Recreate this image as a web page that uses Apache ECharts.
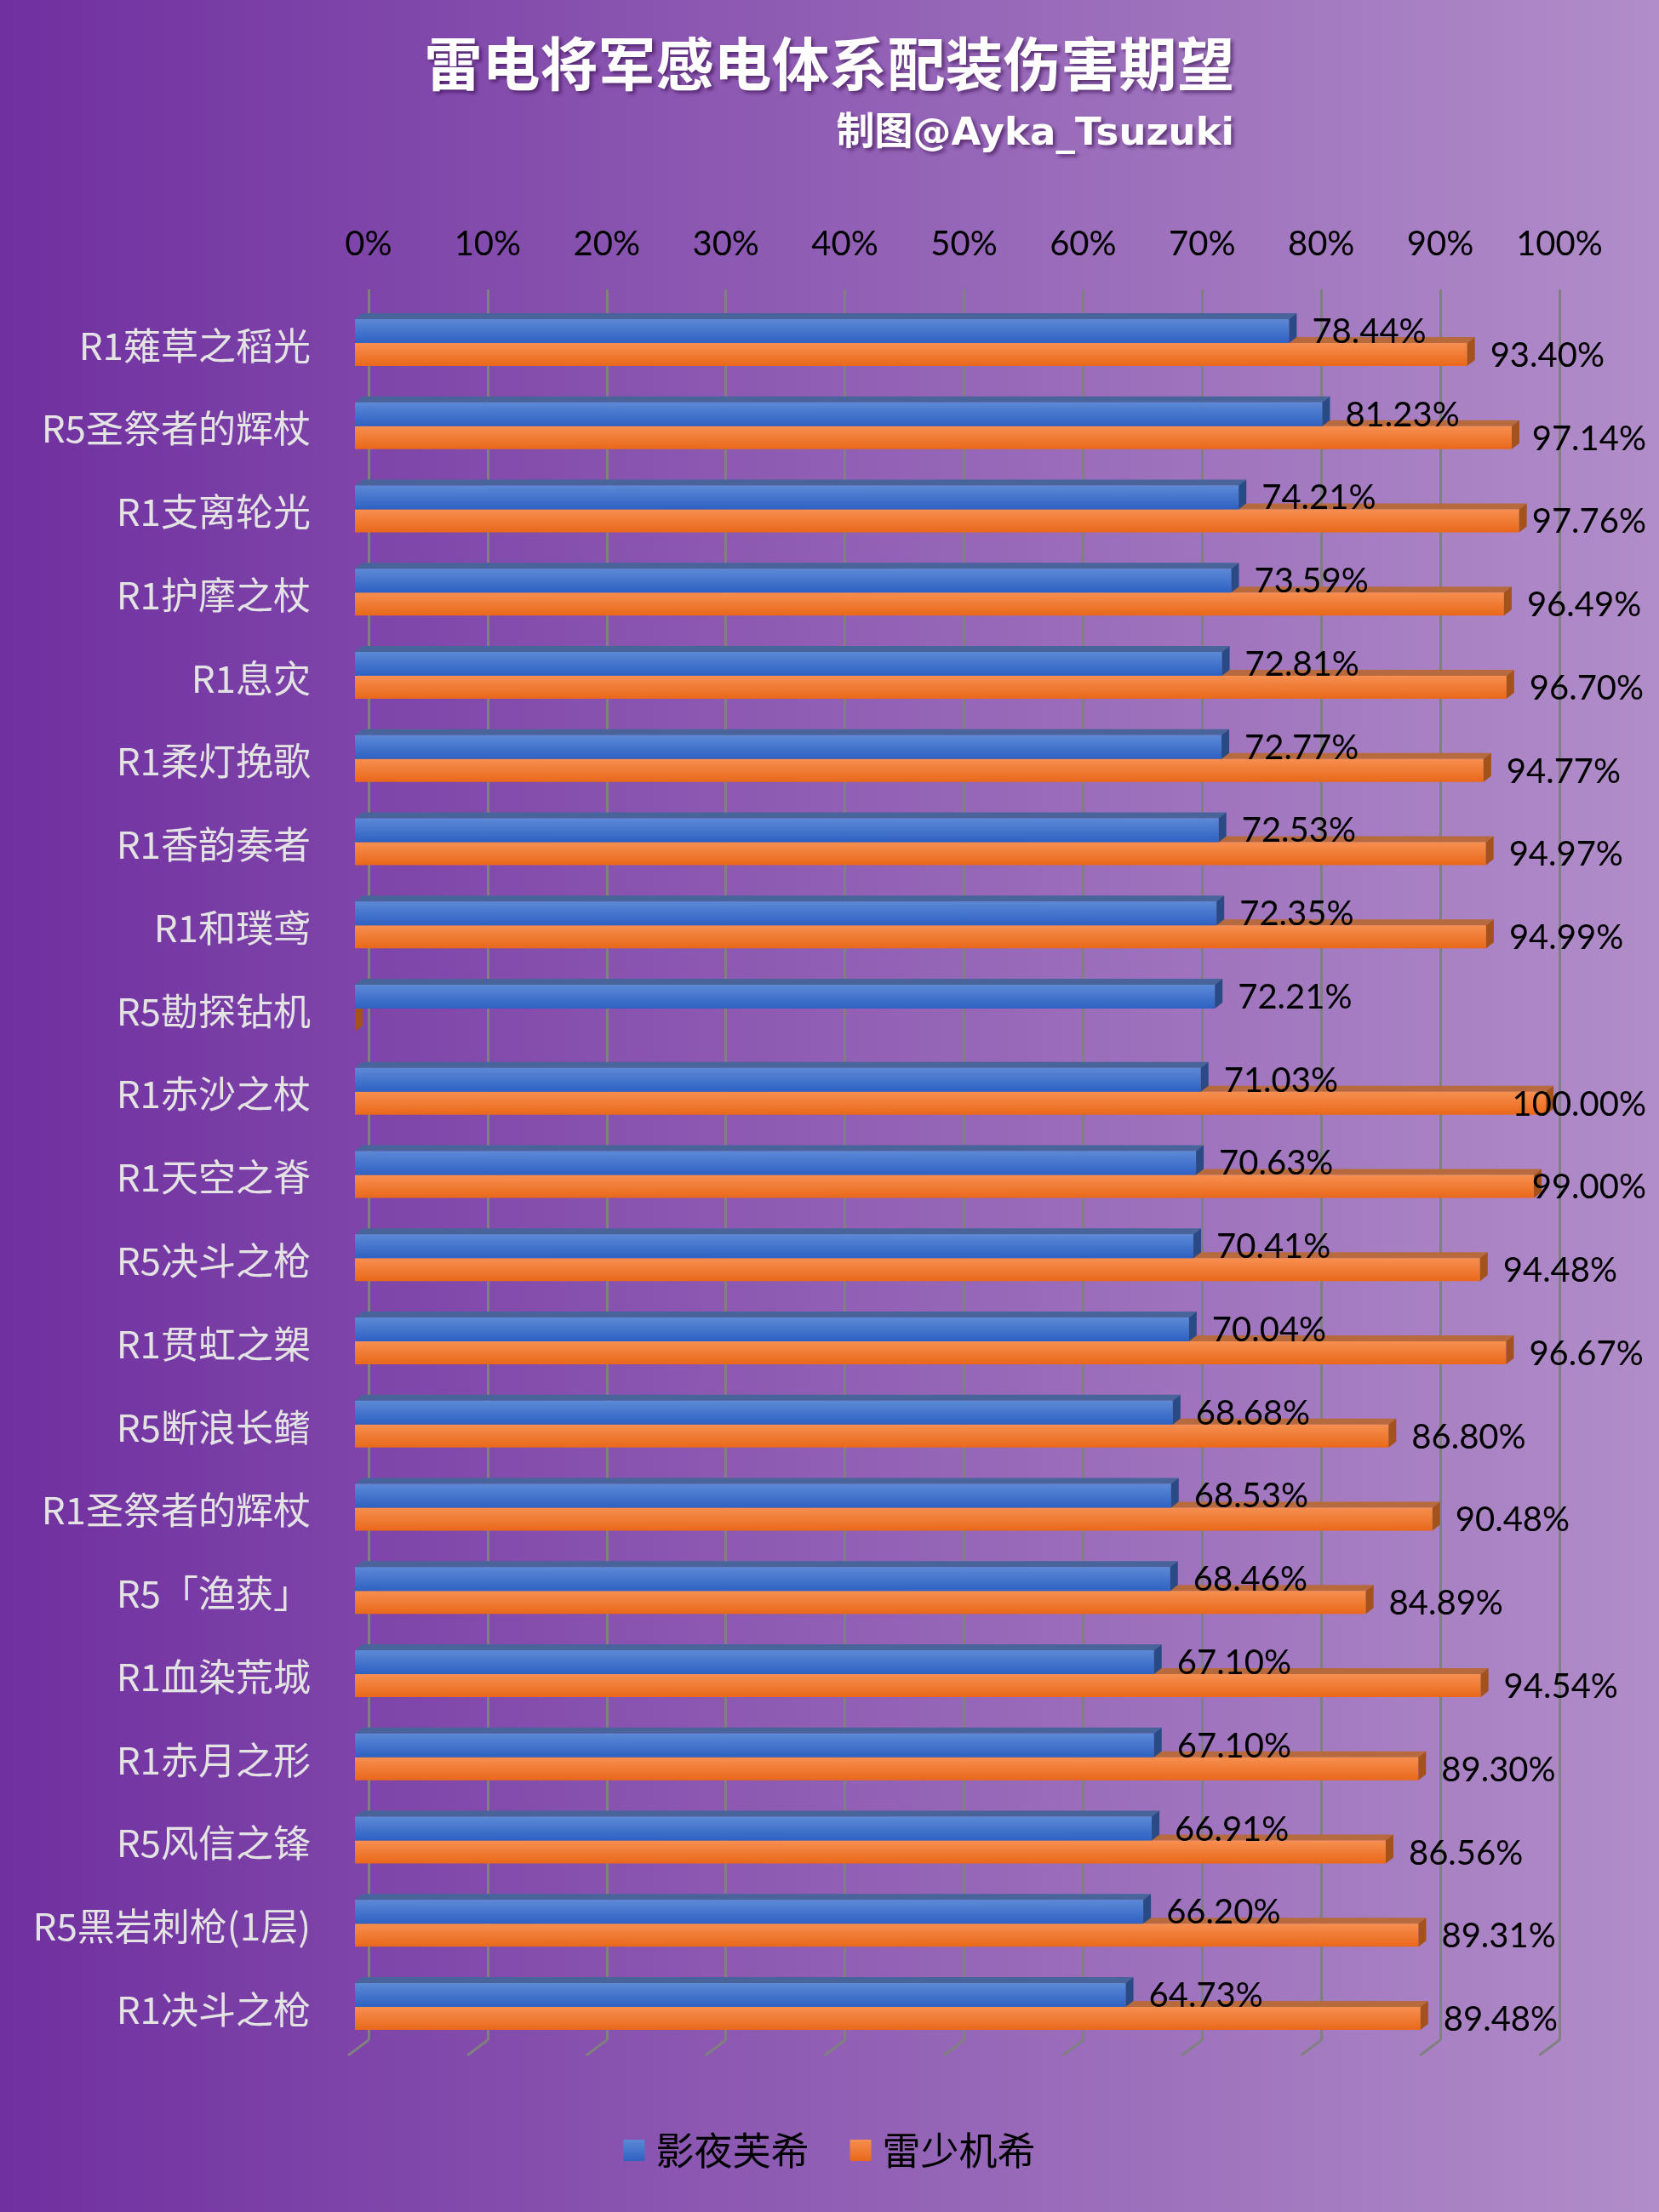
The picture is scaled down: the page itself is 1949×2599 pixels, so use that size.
<!DOCTYPE html>
<html>
<head>
<meta charset="utf-8">
<title>雷电将军感电体系配装伤害期望</title>
<script src="https://cdn.jsdelivr.net/npm/echarts@6/dist/echarts.min.js"></script>
<style>
  html, body { margin: 0; padding: 0; }
  #chart { width: 1949px; height: 2599px; }
</style>
</head>
<body>
<div id="chart"></div>
<script>
// 武器（从上到下）
const weapons = [
  'R1薙草之稻光', 'R5圣祭者的辉杖', 'R1支离轮光', 'R1护摩之杖', 'R1息灾',
  'R1柔灯挽歌', 'R1香韵奏者', 'R1和璞鸢', 'R5勘探钻机', 'R1赤沙之杖',
  'R1天空之脊', 'R5决斗之枪', 'R1贯虹之槊', 'R5断浪长鳍', 'R1圣祭者的辉杖',
  'R5「渔获」', 'R1血染荒城', 'R1赤月之形', 'R5风信之锋', 'R5黑岩刺枪(1层)',
  'R1决斗之枪'
];
// 影夜芙希
const blueValues = [
  78.44, 81.23, 74.21, 73.59, 72.81, 72.77, 72.53, 72.35, 72.21, 71.03,
  70.63, 70.41, 70.04, 68.68, 68.53, 68.46, 67.10, 67.10, 66.91, 66.20, 64.73
];
// 雷少机希
const orangeValues = [
  93.40, 97.14, 97.76, 96.49, 96.70, 94.77, 94.97, 94.99, 0, 100.00,
  99.00, 94.48, 96.67, 86.80, 90.48, 84.89, 94.54, 89.30, 86.56, 89.31, 89.48
];
const tickValues = [0, 10, 20, 30, 40, 50, 60, 70, 80, 90, 100];
const seriesNames = ['影夜芙希', '雷少机希'];

const DX = 9, DY = 7;          // 3D 偏移
const LABEL_LIMIT = 1934;      // 标签右边界
const measureCtx = document.createElement('canvas').getContext('2d');
measureCtx.font = '40px Lato';

function grad(c1, c2) {
  return new echarts.graphic.LinearGradient(0, 0, 0, 1, [
    { offset: 0, color: c1 },
    { offset: 1, color: c2 }
  ]);
}

const blueStyle = { front: ['#5d89d6', '#2d61c2'], cap: '#48649b', side: '#2a4a86', top: -31, bottom: -3, labelDy: -16 };
const orangeStyle = { front: ['#f68f50', '#e9681a'], cap: '#b76a3e', side: '#a4521c', top: -3, bottom: 24, labelDy: 12 };

function barRenderer(st) {
  return function (params, api) {
    const v = api.value(0);
    const idx = api.value(1);
    const p0 = api.coord([0, idx]);
    const p1 = api.coord([v, idx]);
    const x0 = p0[0], x1 = p1[0], yc = p0[1];
    const top = yc + st.top, bot = yc + st.bottom;
    const children = [
      {
        type: 'polygon',
        shape: { points: [[x0, top], [x0 + DX, top - DY], [x1 + DX, top - DY], [x1, top]] },
        style: { fill: st.cap }
      },
      {
        type: 'rect',
        shape: { x: x0, y: top, width: x1 - x0, height: bot - top },
        style: { fill: grad(st.front[0], st.front[1]) }
      },
      {
        type: 'polygon',
        shape: { points: [[x1, top], [x1 + DX, top - DY], [x1 + DX, bot - DY], [x1, bot]] },
        style: { fill: st.side }
      }
    ];
    if (v > 0) {
      const txt = v.toFixed(2) + '%';
      const w = measureCtx.measureText(txt).width;
      let lx = x1 + 27;
      if (lx + w > LABEL_LIMIT) lx = LABEL_LIMIT - w;
      children.push({
        type: 'text',
        style: {
          text: txt, x: lx, y: yc + st.labelDy,
          fill: '#000', fontSize: 40, fontFamily: 'Lato',
          align: 'left', verticalAlign: 'middle'
        }
      });
    }
    return { type: 'group', children: children };
  };
}

const chart = echarts.init(document.getElementById('chart'));
const option = {
  backgroundColor: {
    type: 'linear', x: 0, y: 0, x2: 1, y2: 0,
    colorStops: [
      { offset: 0, color: '#7030a0' },
      { offset: 1, color: '#b18dc9' }
    ]
  },
  title: [
    {
      text: '雷电将军感电体系配装伤害期望',
      left: 'center',
      top: 36,
      textStyle: {
        color: '#ffffff', fontSize: 68, fontWeight: 'bold',
        fontFamily: 'Noto Sans CJK SC',
        textShadowColor: 'rgba(40,0,60,0.55)', textShadowBlur: 4,
        textShadowOffsetX: 3, textShadowOffsetY: 3
      }
    },
    {
      text: '制图@Ayka_Tsuzuki',
      right: 494,
      top: 131,
      textStyle: {
        color: '#ffffff', fontSize: 45, fontWeight: 'bold',
        fontFamily: '"DejaVu Sans", "Noto Sans CJK SC"',
        textShadowColor: 'rgba(40,0,60,0.55)', textShadowBlur: 4,
        textShadowOffsetX: 3, textShadowOffsetY: 3
      }
    }
  ],
  legend: {
    data: seriesNames,
    left: 'center',
    top: 2499,
    icon: 'rect',
    itemWidth: 25,
    itemHeight: 25,
    itemGap: 48,
    textStyle: { color: '#000', fontSize: 45, fontFamily: 'Noto Sans CJK SC', padding: [0, 0, 0, 8] }
  },
  grid: [
    { left: 417, width: 1399, top: 357, height: 2053 },
    { left: 433, width: 1399, top: 340, height: 2057 }
  ],
  xAxis: [
    { gridIndex: 0, type: 'value', min: 0, max: 100, show: false },
    {
      gridIndex: 1, type: 'value', min: 0, max: 100, interval: 10, position: 'top',
      axisLine: { show: false }, axisTick: { show: false },
      axisLabel: { formatter: '{value}%', color: '#000', fontSize: 40, fontFamily: 'Lato', margin: 33 },
      splitLine: { show: true, lineStyle: { color: '#808080', width: 3 } }
    }
  ],
  yAxis: [
    {
      gridIndex: 0, type: 'category', data: weapons, inverse: true,
      axisLine: { show: false }, axisTick: { show: false }, splitLine: { show: false },
      axisLabel: { color: '#e3e3e3', fontSize: 44, fontFamily: 'Noto Sans CJK SC', margin: 52 }
    },
    { gridIndex: 1, type: 'value', min: 0, max: 1, show: false }
  ],
  series: [
    {
      type: 'custom',
      name: 'floor',
      xAxisIndex: 1, yAxisIndex: 1,
      silent: true,
      data: tickValues.map(v => [v, 0]),
      renderItem: function (params, api) {
        const p = api.coord([api.value(0), 0]);
        return {
          type: 'line',
          shape: { x1: p[0], y1: p[1], x2: p[0] - 24, y2: p[1] + 18 },
          style: { stroke: '#808080', lineWidth: 3 }
        };
      }
    },
    {
      type: 'custom',
      name: seriesNames[1],
      xAxisIndex: 0, yAxisIndex: 0,
      itemStyle: { color: grad('#f68f50', '#e9681a') },
      encode: { x: 0, y: 1 },
      data: orangeValues.map((v, i) => [v, i]),
      renderItem: barRenderer(orangeStyle)
    },
    {
      type: 'custom',
      name: seriesNames[0],
      xAxisIndex: 0, yAxisIndex: 0,
      itemStyle: { color: grad('#5d89d6', '#2d61c2') },
      encode: { x: 0, y: 1 },
      data: blueValues.map((v, i) => [v, i]),
      renderItem: barRenderer(blueStyle)
    }
  ]
};
chart.setOption(option);
</script>
</body>
</html>
